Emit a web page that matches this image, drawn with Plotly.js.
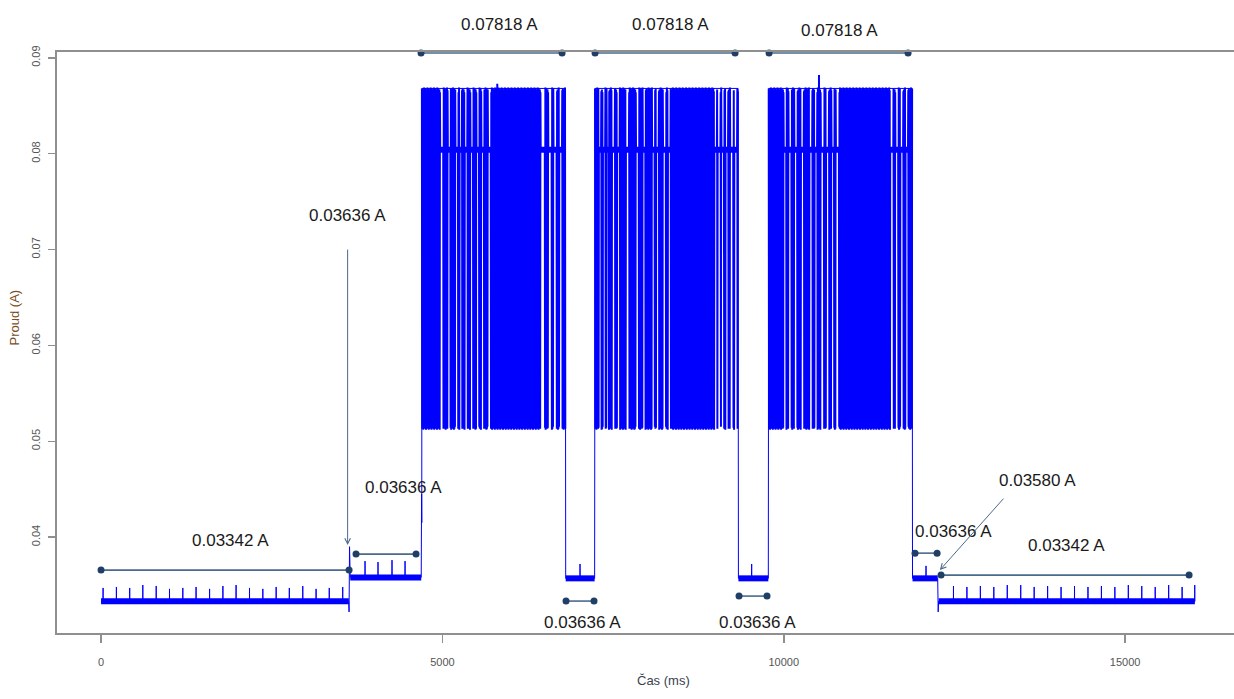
<!DOCTYPE html>
<html>
<head>
<meta charset="utf-8">
<script src="https://cdn.plot.ly/plotly-3.0.1.min.js"></script>
<style>html,body{margin:0;padding:0;background:#fff;}#chart{width:1234px;height:699px;}</style>
</head>
<body>
<div id="chart"></div>
<script>
// ---------------- data ----------------
const baseLevel = 0.0333;     // idle current (0.03342 A)
const midLevel = 0.0358;      // intermediate level
const lowLevel = 0.0357;      // level between bursts
const bandLevel = 0.0804;     // dense band inside bursts
const pulseHigh = [0.0868, 0.0865, 0.0867, 0.0864, 0.0869, 0.0866];
const pulseLow = [0.0513, 0.0514, 0.0512, 0.0513, 0.0515];

const leftSpikes = [30, 225, 420, 612, 808, 1003, 1198, 1392, 1590, 1785, 1978, 2175, 2370, 2565, 2758, 2955, 3150, 3343, 3540];
const leftSpikeVals = [0.0347, 0.0348, 0.0347, 0.0350, 0.0349, 0.0346, 0.0347, 0.0348, 0.0346, 0.0349, 0.0350, 0.0347, 0.0346, 0.0348, 0.0347, 0.0349, 0.0346, 0.0347, 0.0348];
const midSpikes = [3867, 4057, 4262, 4453];
const midSpikeVals = [0.0375, 0.0374, 0.0376, 0.0375];
const rightSpikes = [12486, 12683, 12880, 13077, 13274, 13471, 13668, 13865, 14062, 14259, 14456, 14653, 14850, 15047, 15244, 15441, 15638, 15835, 16020];
const rightSpikeVals = [0.0349, 0.0348, 0.0349, 0.0348, 0.0350, 0.0350, 0.0348, 0.0349, 0.0348, 0.0349, 0.0348, 0.0349, 0.0348, 0.0350, 0.0349, 0.0348, 0.0350, 0.0348, 0.0350];
const lowSpikes = [7016, 9530, 12084];
const lowSpikeVals = [0.0372, 0.0372, 0.0370];

const blockStart = [4700, 7236, 9780];
const blockEnd = [6800, 9330, 11880];
const blockGaps = [
  [4990, 5097, 5210, 5269, 5347, 5430, 5518, 5591, 5688, 6470, 6577, 6650, 6733],
  [7309, 7368, 7422, 7505, 7578, 7710, 7857, 7954, 8091, 8150, 8252, 8321, 9003, 9052, 9106, 9165, 9238, 9296],
  [10019, 10092, 10176, 10273, 10396, 10469, 10566, 10640, 10718, 10786, 11582, 11655, 11728, 11802]
];
const blockGapWidths = [
  [30, 25, 25, 20, 25, 25, 25, 25, 30, 50, 35, 30, 30],
  [20, 20, 20, 30, 25, 30, 30, 25, 25, 25, 30, 25, 25, 25, 25, 25, 30, 25],
  [25, 30, 25, 30, 30, 25, 30, 25, 25, 30, 30, 30, 30, 25]
];
const burstSpikes = [5810, 7978, 10517];
const burstSpikeVals = [0.0873, 0.0875, 0.0882];

// annotation segments
const segStart = [0, 3735, 4687, 7236, 9785, 6811, 9345, 11923, 12304];
const segEnd = [3633, 4614, 6753, 9287, 11821, 7221, 9755, 12246, 15937];
const segValue = [0.03656, 0.03823, 0.0905, 0.0905, 0.0905, 0.03333, 0.03385, 0.03833, 0.03604];
const segLabels = ['0.03342 A', '0.03636 A', '0.07818 A', '0.07818 A', '0.07818 A', '0.03636 A', '0.03636 A', '0.03636 A', '0.03342 A'];
const arrowHeadX = [3612, 12286];
const arrowHeadY = [0.03917, 0.03656];
const arrowLabels = ['0.03636 A', '0.03580 A'];

const xTicks = [0, 5000, 10000, 15000];
const yTicks = [0.04, 0.05, 0.06, 0.07, 0.08, 0.09];
const yTickText = ['0.04', '0.05', '0.06', '0.07', '0.08', '0.09'];

// ---------------- build signal ----------------
const sx = [], sy = [];
function pt(x, y) { sx.push(x); sy.push(y); }
function flat(t0, t1, level, spikes, vals) {
  pt(t0, level);
  spikes.forEach((s, i) => { if (s > t0 && s < t1) { pt(s - 1, level); pt(s, vals[i]); pt(s + 1, level); } });
  pt(t1, level);
}
// burst pulses drawn as a separate, slightly wider trace
const px = [], py = [];
function burst(b) {
  const step = 4, lineAllowance = 16;
  let k = 0;
  for (let t = blockStart[b]; t <= blockEnd[b]; t += step) {
    const inGap = blockGaps[b].some((c, j) => Math.abs(t - c) < (blockGapWidths[b][j] + lineAllowance) / 2);
    if (inGap) { px.push(t); py.push(bandLevel); continue; }
    px.push(t);
    if (k % 2 === 0) {
      const spk = burstSpikes.findIndex(s => s >= t && s < t + step * 2);
      py.push(spk >= 0 ? burstSpikeVals[spk] : pulseHigh[(k / 2) % pulseHigh.length]);
    } else {
      py.push(pulseLow[((k - 1) / 2) % pulseLow.length]);
    }
    k++;
  }
  px.push(null); py.push(null);
}
flat(0, 3628, baseLevel, leftSpikes, leftSpikeVals);
pt(3633, 0.0322); pt(3640, 0.0390);
flat(3650, 4690, midLevel, midSpikes, midSpikeVals);
pt(4695, 0.0445); pt(4698, 0.0415); pt(4700, 0.0868);
burst(0);
pt(6800, 0.0868);
flat(6806, 7230, lowLevel, lowSpikes, lowSpikeVals);
pt(7236, 0.0868);
burst(1);
pt(9330, 0.0868);
flat(9336, 9774, lowLevel, lowSpikes, lowSpikeVals);
pt(9780, 0.0868);
burst(2);
pt(11880, 0.0868);
flat(11886, 12255, lowLevel, lowSpikes, lowSpikeVals);
pt(12262, 0.0322);
flat(12268, 16022, baseLevel, rightSpikes, rightSpikeVals);

// thick noise bands
const bx = [], by = [];
function band(t0, t1, v) { bx.push(t0, t1, null); by.push(v, v, null); }
band(0, 3630, baseLevel); band(3650, 4690, midLevel);
band(6806, 7230, lowLevel); band(9336, 9774, lowLevel); band(11886, 12255, lowLevel);
band(12268, 16022, baseLevel);
for (let b = 0; b < 3; b++) band(blockStart[b], blockEnd[b], bandLevel);

const traces = [
  {x: bx, y: by, mode: 'lines', line: {color: '#0000ff', width: 6, simplify: false}, hoverinfo: 'skip', showlegend: false},
  {x: sx, y: sy, mode: 'lines', line: {color: '#0000ff', width: 1, simplify: false}, showlegend: false},
  {x: px, y: py, mode: 'lines', line: {color: '#0000ff', width: 2, simplify: false}, connectgaps: false, showlegend: false}
];
for (let i = 0; i < segStart.length; i++) {
  traces.push({x: [segStart[i], segEnd[i]], y: [segValue[i], segValue[i]], mode: 'lines+markers',
    line: {color: '#4a6a8c', width: 1.6}, marker: {color: '#1f3f66', size: 7},
    cliponaxis: false, showlegend: false, hoverinfo: 'skip'});
}

// label offsets (pixels) relative to segment centre
const labOff = [[5, 30], [17, 67], [8, 28], [5, 28], [1, 22], [2, -21], [4, -26], [27, 22], [1, 30]];
const labelFont = {family: 'Liberation Sans, Arial, sans-serif', size: 17, color: '#1a1a1a'};
const annotations = [];
for (let i = 0; i < segStart.length; i++) {
  annotations.push({x: (segStart[i] + segEnd[i]) / 2, y: segValue[i], xref: 'x', yref: 'y', text: segLabels[i],
    showarrow: false, xshift: labOff[i][0], yshift: labOff[i][1], font: labelFont});
}
const arrowTail = [[0, -297], [65, -73]];
const arrowLabOff = [[0, 330], [98, 90]];
for (let i = 0; i < arrowHeadX.length; i++) {
  annotations.push({x: arrowHeadX[i], y: arrowHeadY[i], xref: 'x', yref: 'y', text: '', showarrow: true,
    ax: arrowTail[i][0], ay: arrowTail[i][1], arrowhead: 5, arrowsize: 1.1, arrowwidth: 1, arrowcolor: '#4a6a8c', standoff: 0});
  annotations.push({x: arrowHeadX[i], y: arrowHeadY[i], xref: 'x', yref: 'y', text: arrowLabels[i], showarrow: false,
    xshift: arrowLabOff[i][0], yshift: arrowLabOff[i][1], font: labelFont});
}
annotations.push({xref: 'paper', yref: 'paper', x: (663 - 57) / 1177, y: (633 - 690) / 581, text: 'Čas (ms)', showarrow: false,
  font: {family: 'Liberation Sans, Arial, sans-serif', size: 13, color: '#3a4250'}});
annotations.push({xref: 'paper', yref: 'paper', x: (4 - 57) / 1177, y: (633 - 318) / 581, text: 'Proud (A)', showarrow: false, textangle: -90,
  font: {family: 'Liberation Sans, Arial, sans-serif', size: 13, color: '#7a4e1e'}});

const layout = {
  width: 1234, height: 699,
  margin: {l: 57, r: 0, t: 52, b: 66},
  paper_bgcolor: '#ffffff', plot_bgcolor: '#ffffff',
  showlegend: false,
  xaxis: {range: [-645, 16595], showgrid: false, zeroline: false, showline: true, mirror: true, linecolor: '#8f8f8f', linewidth: 2,
    ticks: 'outside', ticklen: 8, tickwidth: 1.5, tickcolor: '#8f8f8f', tickvals: xTicks, ticktext: xTicks.map(String),
    tickfont: {family: 'Liberation Sans, Arial, sans-serif', size: 11, color: '#555'}, ticklabelstandoff: 10},
  yaxis: {range: [0.030, 0.0906], showgrid: false, zeroline: false, showline: true, mirror: false, linecolor: '#8f8f8f', linewidth: 2,
    ticks: 'outside', ticklen: 7, tickwidth: 1.5, tickcolor: '#8f8f8f', tickvals: yTicks, ticktext: yTickText, tickangle: -90,
    tickfont: {family: 'Liberation Sans, Arial, sans-serif', size: 11, color: '#555'}, ticklabelstandoff: 4},
  annotations: annotations
};
Plotly.newPlot('chart', traces, layout, {displayModeBar: false, staticPlot: true});
</script>
</body>
</html>
